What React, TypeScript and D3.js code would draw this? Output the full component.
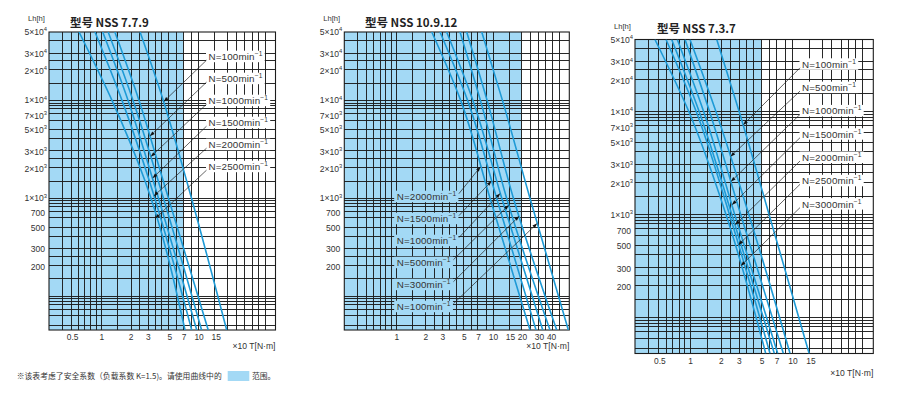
import React from "react";
import * as d3 from "d3";

// ---------- shared axis data ----------
const T_DOMAIN: [number, number] = [0.286, 61];
const LH_DOMAIN: [number, number] = [45, 50000];

const gridT = [0.39, 0.49, 0.58, 0.67, 0.77, 0.88, 1, 1.45, 2, 2.45, 3, 3.55, 4.1, 4.9, 5.9, 6.9, 8.4, 9.9, 14.5, 19.5, 24, 29.5, 35, 41, 48];
const gridLhMultipliers = [1, 0.94, 0.88, 0.82, 0.73, 0.63, 0.5, 0.41, 0.305, 0.255, 0.205, 0.15];
const gridLhDecades = [100, 1000, 10000, 100000];

const yTickValues = [50000, 30000, 20000, 10000, 7000, 5000, 3000, 2000, 1000, 700, 500, 300, 200];

// ---------- NSS 7.7.9 ----------
const xTicks779 = [0.5, 1, 2, 3, 5, 7, 10, 15];
const speeds779 = [100, 500, 1000, 1500, 2000, 2500];
const lh779 = [50000, 10000, 1500, 45];
const t779 = [
  [2.47, 4.28, 7.45, 19.2],
  [1.36, 2.41, 4.28, 12.4],
  [1.16, 2.09, 3.8, 10.6],
  [1.02, 1.86, 3.38, 9.45],
  [0.85, 1.61, 3.08, 8.39],
  [0.582, 1.27, 2.78, 7.16],
];
const arrowLh779 = [9700, 4300, 2650, 1600, 1050, 620];
const safeT779 = 6.9;

// ---------- NSS 10.9.12 ----------
const xTicks10912 = [1, 2, 3, 5, 7, 10, 15, 20, 30, 40];
const speeds10912 = [2000, 1500, 1000, 500, 300, 100];
const lh10912 = [50000, 10000, 1000, 45];
const t10912 = [
  [2.3, 4.58, 9.22, 23.9],
  [2.8, 5.4, 10.8, 27.6],
  [3.28, 6.13, 12.2, 32.4],
  [4.51, 7.33, 13.7, 38.5],
  [5.29, 8.6, 16.1, 45.2],
  [7.57, 12.4, 23.9, 59.6],
];
const arrowLh10912 = [2100, 1500, 1123, 853, 658, 554];
const safeT10912 = 19.5;

// ---------- NSS 7.3.7 ----------
const xTicks737 = [0.5, 1, 2, 3, 5, 7, 10, 15];
const speeds737 = [100, 500, 1000, 1500, 2000, 2500, 3000];
const lh737 = [50000, 10000, 1000, 45];
const t737 = [
  [1.8, 2.98, 5.85, 14.4],
  [0.986, 1.767, 3.71, 9.37],
  [0.881, 1.53, 3.09, 8.06],
  [0.741, 1.34, 2.7, 7.1],
  [0.653, 1.211, 2.53, 6.58],
  [0.575, 1.134, 2.4, 5.97],
  [0.448, 0.96, 2.22, 5.42],
];
const arrowLh737 = [7400, 3650, 2090, 1240, 794, 508, 318];
const safeT737 = 4.9;

// ---------- styling ----------
const BLUE_FILL = "#a3d9f5";
const CURVE = "#1e9ad6";
const GRID = "#1c1c1c";
const TEXT = "#333";
const FONT = "'Liberation Sans', Arial, 'Noto Sans CJK SC', sans-serif";
const CJK = "'Noto Sans CJK SC', 'Liberation Sans', sans-serif";

type PanelCfg = {
  title: string;
  x0: number; x1: number; y0: number; y1: number;
  titleX: number; titleY: number;
  xTicks: number[];
  speeds: number[];
  lh: number[];
  t: number[][];
  arrowLh: number[];
  safeT: number;
  labelX: number; labelY0: number; labelStep: number;
  labelMode: "left" | "right";
  labelBg: string;
  unitY: number;
};

const panels: PanelCfg[] = [
  {
    title: "型号 NSS 7.7.9", x0: 49, x1: 275.5, y0: 32, y1: 330, titleX: 70, titleY: 27,
    xTicks: xTicks779, speeds: speeds779, lh: lh779, t: t779, arrowLh: arrowLh779, safeT: safeT779,
    labelX: 208.5, labelY0: 56.7, labelStep: 22, labelMode: "left", labelBg: "#fff", unitY: 349,
  },
  {
    title: "型号 NSS 10.9.12", x0: 344.3, x1: 569.3, y0: 32, y1: 330, titleX: 365, titleY: 27,
    xTicks: xTicks10912, speeds: speeds10912, lh: lh10912, t: t10912, arrowLh: arrowLh10912, safeT: safeT10912,
    labelX: 396.7, labelY0: 196.7, labelStep: 22, labelMode: "right", labelBg: BLUE_FILL, unitY: 349,
  },
  {
    title: "型号 NSS 7.3.7", x0: 635, x1: 873.3, y0: 39.5, y1: 353.5, titleX: 657, titleY: 32.5,
    xTicks: xTicks737, speeds: speeds737, lh: lh737, t: t737, arrowLh: arrowLh737, safeT: safeT737,
    labelX: 802, labelY0: 64.3, labelStep: 23.3, labelMode: "left", labelBg: "#fff", unitY: 376,
  },
];

const allGridLh = gridLhDecades
  .flatMap((d) => gridLhMultipliers.map((m) => d * m))
  .filter((v) => v > LH_DOMAIN[0] * 1.01 && v < LH_DOMAIN[1] * 0.99);

function interpT(lh: number[], t: number[], L: number): number {
  for (let i = 0; i < lh.length - 1; i++) {
    if (L <= lh[i] && L >= lh[i + 1]) {
      const f = (Math.log(L) - Math.log(lh[i])) / (Math.log(lh[i + 1]) - Math.log(lh[i]));
      return Math.exp(Math.log(t[i]) + f * (Math.log(t[i + 1]) - Math.log(t[i])));
    }
  }
  return t[t.length - 1];
}

function YLabel({ v, x, y }: { v: number; x: number; y: number }) {
  if (v >= 1000) {
    const e = Math.floor(Math.log10(v) + 1e-9);
    const m = Math.round(v / Math.pow(10, e));
    return (
      <text x={x} y={y} textAnchor="end" fontSize={8.6} fill={TEXT} fontFamily={FONT}>
        {`${m}×10`}
        <tspan fontSize={5.8} dy={-3.6}>{e}</tspan>
      </text>
    );
  }
  return (
    <text x={x - 2} y={y} textAnchor="end" fontSize={8.6} fill={TEXT} fontFamily={FONT}>
      {v}
    </text>
  );
}

function Panel({ p, idx }: { p: PanelCfg; idx: number }) {
  const xs = d3.scaleLog().domain(T_DOMAIN).range([p.x0, p.x1]);
  const ys = d3.scaleLog().domain(LH_DOMAIN).range([p.y1, p.y0]);
  const line = d3
    .line<[number, number]>()
    .x((d) => xs(d[0]))
    .y((d) => ys(d[1]))
    .curve(d3.curveMonotoneY);
  const clipId = `clip${idx}`;
  const labelFs = 9.8;

  return (
    <g>
      <defs>
        <clipPath id={clipId}>
          <rect x={p.x0} y={p.y0} width={p.x1 - p.x0} height={p.y1 - p.y0} />
        </clipPath>
      </defs>
      <rect x={p.x0} y={p.y0} width={xs(p.safeT) - p.x0} height={p.y1 - p.y0} fill={BLUE_FILL} />
      <g stroke={GRID} strokeWidth={0.95} shapeRendering="crispEdges">
        {gridT.map((v) => (
          <line key={"v" + v} x1={xs(v)} x2={xs(v)} y1={p.y0} y2={p.y1} />
        ))}
        {allGridLh.map((v) => (
          <line key={"h" + v} x1={p.x0} x2={p.x1} y1={ys(v)} y2={ys(v)} />
        ))}
      </g>
      <rect x={p.x0} y={p.y0} width={p.x1 - p.x0} height={p.y1 - p.y0} fill="none" stroke={GRID} strokeWidth={1.1} />
      <g clipPath={`url(#${clipId})`} fill="none" stroke={CURVE} strokeWidth={1.6}>
        {p.t.map((ts, i) => (
          <path key={i} d={line(ts.map((tv, j) => [tv, p.lh[j]] as [number, number])) || ""} />
        ))}
      </g>
      {p.speeds.map((s, i) => {
        const ly = p.labelY0 + i * p.labelStep;
        const digits = String(s).length;
        const w = labelFs * (3.0 + 0.556 * digits) + 13;
        const tipL = p.arrowLh[i];
        const tipT = interpT(p.lh, p.t[i], tipL);
        const tx = xs(tipT);
        const ty = ys(tipL);
        const sx = p.labelMode === "left" ? p.labelX - 2 : p.labelX + w - 2;
        const sy = p.labelMode === "left" ? ly + 3.5 : ly - 3;
        const dx = tx - sx, dy = ty - sy;
        const len = Math.hypot(dx, dy);
        const ux = dx / len, uy = dy / len;
        const hl = 5, hw = 1.7;
        const bx = tx - ux * hl, by = ty - uy * hl;
        const head = `M${tx},${ty}L${bx - uy * hw},${by + ux * hw}L${bx + uy * hw},${by - ux * hw}Z`;
        return (
          <g key={"lab" + i}>
            <rect x={p.labelX - 2.5} y={ly - 6} width={w} height={11.5} fill={p.labelBg} />
            <text x={p.labelX} y={ly + 3.5} fontSize={labelFs} fill={TEXT} fontFamily={FONT} letterSpacing={0.15}>
              {`N=${s}min`}
              <tspan fontSize={6.6} dy={-4}>−1</tspan>
            </text>
            <line x1={sx} y1={sy} x2={bx} y2={by} stroke="#222" strokeWidth={0.7} />
            <path d={head} fill="#111" />
          </g>
        );
      })}
      {yTickValues.map((v) => (
        <YLabel key={"y" + v} v={v} x={p.x0 - 2} y={ys(v) + 3} />
      ))}
      <text x={p.x0 - 21} y={p.y0 - 11} fontSize={7.6} fill={TEXT} fontFamily={FONT}>Lh[h]</text>
      <text x={p.titleX} y={p.titleY} fontSize={11.5} fontWeight={700} fill="#222" fontFamily={CJK}>{p.title}</text>
      {p.xTicks.map((v) => (
        <text key={"x" + v} x={xs(v)} y={p.y1 + 10} textAnchor="middle" fontSize={8.4} fill={TEXT} fontFamily={FONT}>
          {String(v)}
        </text>
      ))}
      <text x={p.x1} y={p.unitY} textAnchor="end" fontSize={8.6} fill={TEXT} fontFamily={FONT}>×10 T[N·m]</text>
    </g>
  );
}

export default function App() {
  return (
    <svg
      width={900}
      height={393}
      viewBox="0 0 900 393"
      style={{ position: "absolute", left: 0, top: 0, background: "#fff" }}
    >
      <rect x={0} y={0} width={900} height={393} fill="#fff" />
      {panels.map((p, i) => (
        <Panel key={i} p={p} idx={i} />
      ))}
      <text x={16.7} y={379} fontSize={7.8} fill={TEXT} fontFamily={CJK} textLength={205} lengthAdjust="spacing">
        ※该表考虑了安全系数（负载系数 K=1.5)。请使用曲线中的
      </text>
      <rect x={227.7} y={371} width={21.6} height={10} fill={BLUE_FILL} />
      <text x={252} y={379} fontSize={7.8} fill={TEXT} fontFamily={CJK}>范围。</text>
    </svg>
  );
}
